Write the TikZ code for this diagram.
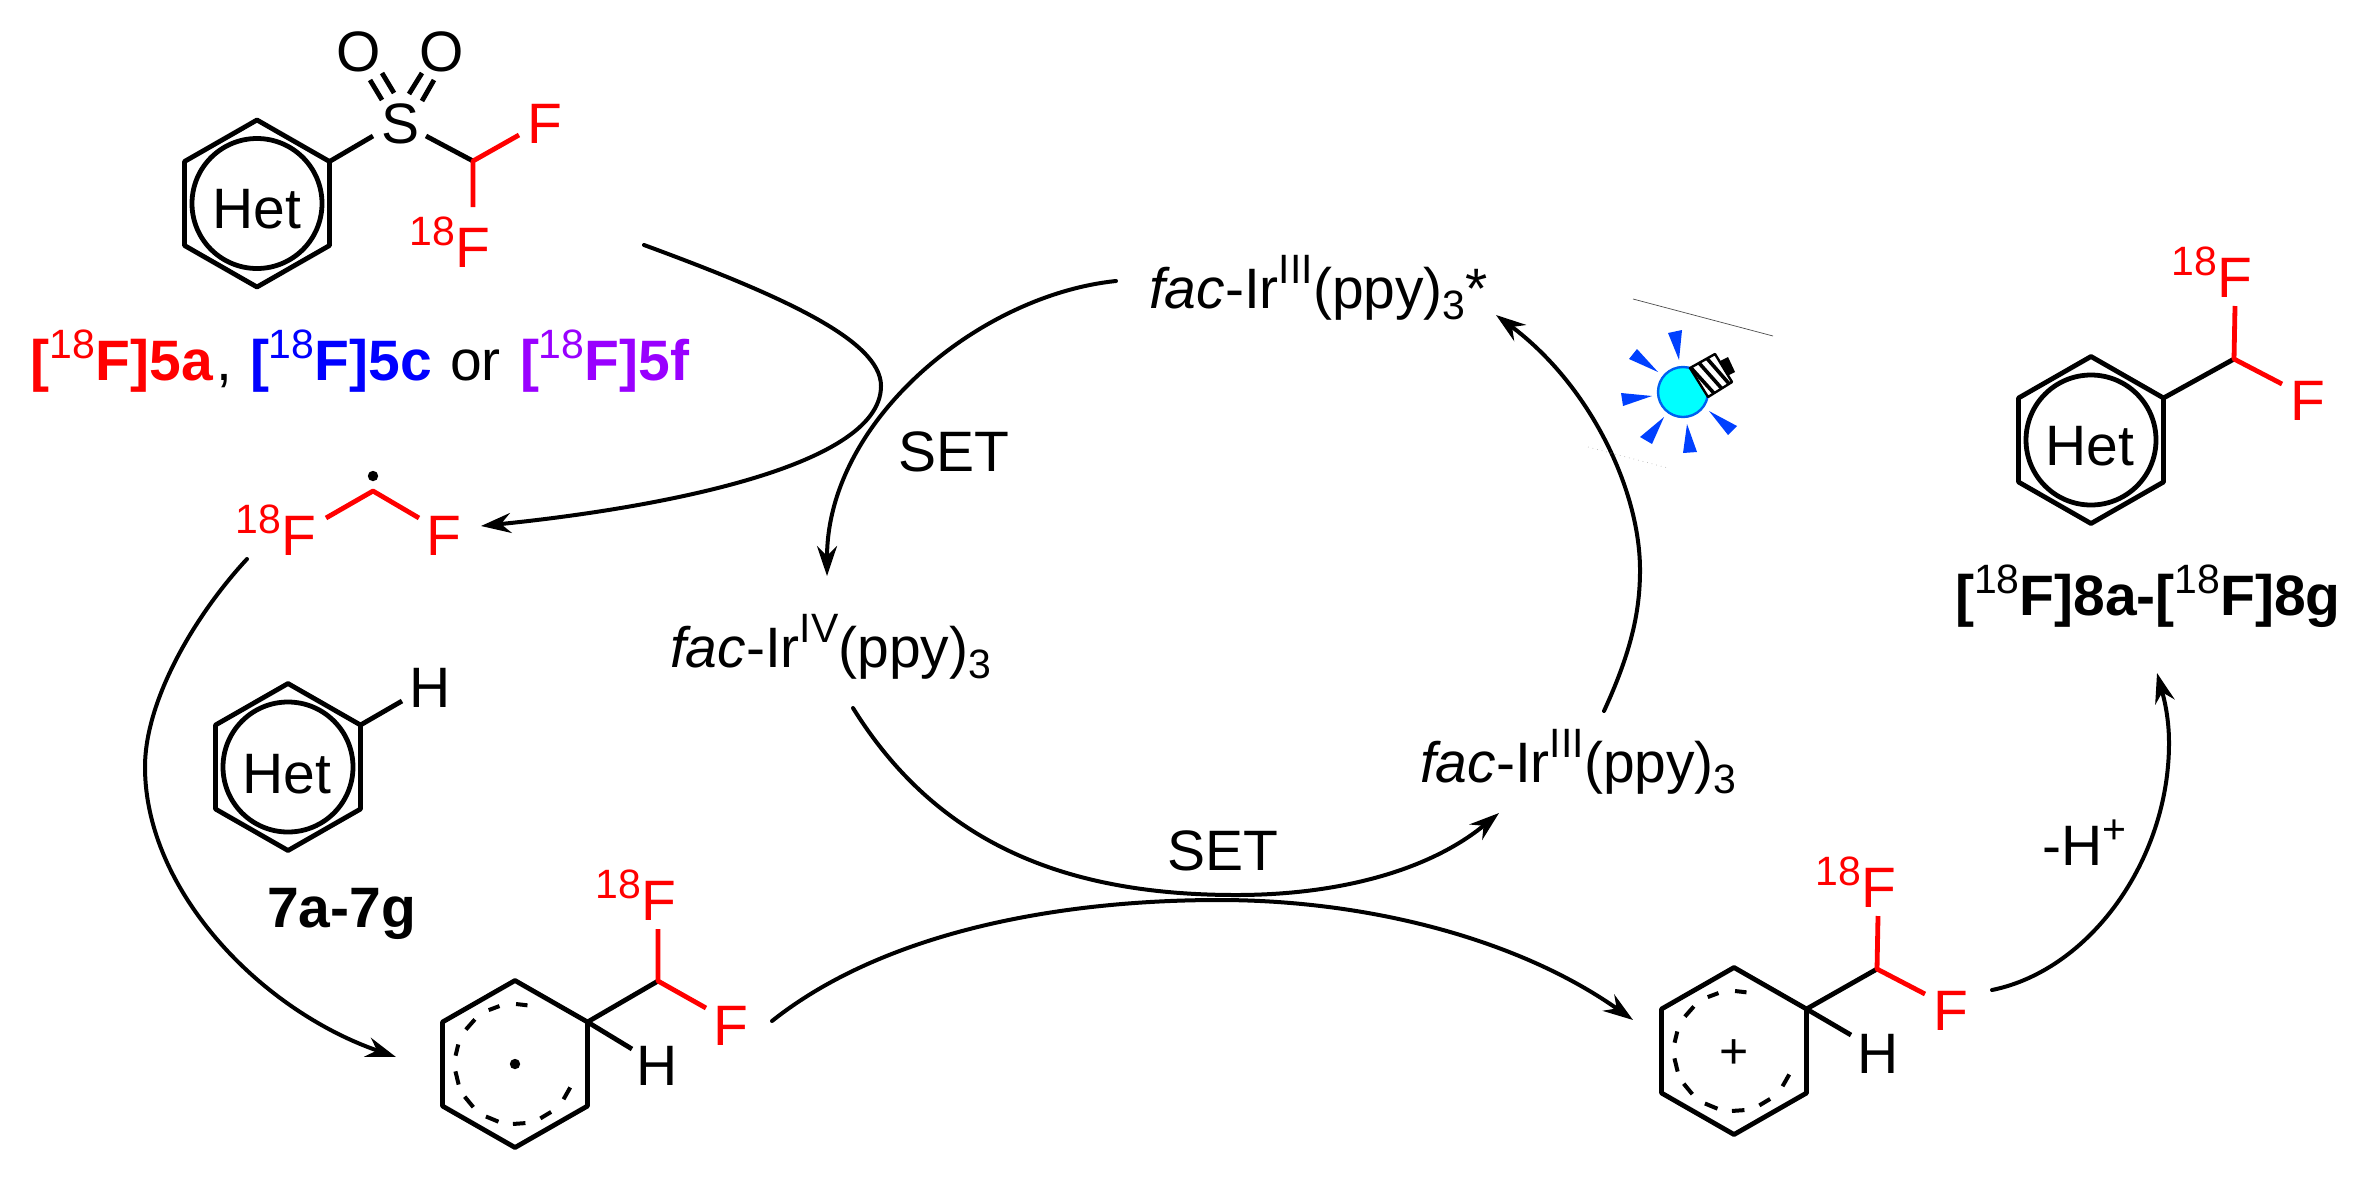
\documentclass[tikz,border=0pt]{standalone}
\usepackage{fontspec}
\setmainfont{Liberation Sans}
\usetikzlibrary{arrows.meta,calc}
\definecolor{fred}{HTML}{FF0000}
\definecolor{fblue}{HTML}{0000FF}
\definecolor{fpurple}{HTML}{9900FF}
\definecolor{bulbedge}{HTML}{0060F0}
\definecolor{bulbfill}{HTML}{00FFFF}
\definecolor{rayblue}{HTML}{0040FF}
\newcommand\bigf{\fontsize{28.5}{30}\selectfont}
\newcommand\smf{\fontsize{20.5}{22}\selectfont}
\newcommand\isoF{\raisebox{11pt}{\smf 18}F}
\newcommand\isoFb{[\raisebox{11pt}{\smf\mdseries 18}F]}
\newcommand\hexat[3]{%
  \coordinate (#1c) at (#2,#3);
  \coordinate (#11) at (#2,#3-83.5);
  \coordinate (#12) at (#2+72.5,#3-42);
  \coordinate (#13) at (#2+72.5,#3+42);
  \coordinate (#14) at (#2,#3+83.5);
  \coordinate (#15) at (#2-72.5,#3+42);
  \coordinate (#16) at (#2-72.5,#3-42);
  \draw[bond] (#11)--(#12)--(#13)--(#14)--(#15)--(#16)--cycle;}
\newcommand\ringdash[2]{%
  \foreach \aa/\bb in {116/105,89/78,145/132,172/161,187/200,213/226,241/254,268/280,295/307,324/337}
    \draw[dashbond,shift={(#1,#2)}] ({60*cos(\aa)},{-60*sin(\aa)}) -- ({60*cos(\bb)},{-60*sin(\bb)});}
\tikzset{
  bond/.style={line width=2.4pt,line join=round,draw=black},
  rbond/.style={line width=2.4pt,line join=round,draw=fred},
  dashbond/.style={line width=2pt,draw=black},
  curved/.style={line width=2pt,draw=black,line cap=round,-{Stealth[length=15pt,width=10pt,inset=5pt]}},
  txt/.style={inner sep=0pt,outer sep=0pt,font=\bigf},
  rtxt/.style={txt,text=fred},
  ray/.style={fill=rayblue,draw=none},
}
\begin{document}
\begin{tikzpicture}[x=0.5pt,y=-0.5pt]
\useasboundingbox (0,0) rectangle (2370,1179);

% sulfone reagent
\hexat{a}{257}{203.5}
\draw[bond] (ac) circle[radius=32.5pt];
\node[txt,anchor=base] (het1) at (257,228) {Het};
\node[txt,anchor=base] (s1) at (400.5,143) {S};
\node[txt,anchor=base] (o1) at (359,71) {O};
\node[txt,anchor=base] (o2) at (442,71) {O};
\node[rtxt,anchor=base west] (f1) at (527,143) {F};
\node[rtxt,anchor=base east] (f18a) at (490,267) {\isoF};
\coordinate (ca) at (473,161);
\coordinate (sl) at (373,136);
\coordinate (sr) at (426,136);
\coordinate (fa) at (519,135);
\coordinate (fb) at (473,207);
\coordinate (o1a) at (370,80); \coordinate (o1b) at (382,100);
\coordinate (o1c) at (382,73); \coordinate (o1d) at (394,93);
\coordinate (o2a) at (422,73); \coordinate (o2b) at (409,94);
\coordinate (o2c) at (434,80); \coordinate (o2d) at (422,101);
\draw[bond] (a2)--(sl);
\draw[bond] (sr)--(ca);
\draw[rbond] (fa)--(ca)--(fb);
\draw[bond] (o1a)--(o1b); \draw[bond] (o1c)--(o1d);
\draw[bond] (o2a)--(o2b); \draw[bond] (o2c)--(o2d);

% reagent labels
\node[txt,anchor=base west,text=fred,font=\bigf\bfseries] (l5a) at (31,380) {\isoFb 5a};
\node[txt,anchor=base west] (lcomma) at (216,380) {,};
\node[txt,anchor=base west,text=fblue,font=\bigf\bfseries] (l5c) at (250,380) {\isoFb 5c};
\node[txt,anchor=base west] (lor) at (450,380) {or};
\node[txt,anchor=base west,text=fpurple,font=\bigf\bfseries] (l5f) at (520,380) {\isoFb 5f};

% CHF radical
\node[rtxt,anchor=base east] (f18b) at (316,555) {\isoF};
\node[rtxt,anchor=base west] (f2) at (426,555) {F};
\coordinate (rapex) at (373,491);
\coordinate (rl) at (326,518);
\coordinate (rr) at (419,518);
\draw[rbond] (rl)--(rapex)--(rr);
\fill[black] (373,476) circle[radius=2.6pt];

% arene
\hexat{b}{288}{767}
\draw[bond] (bc) circle[radius=32.5pt];
\node[txt,anchor=base] (het2) at (287,793) {Het};
\node[txt,anchor=base] (h1) at (430,707) {H};
\coordinate (hb) at (402,701);
\draw[bond] (b2)--(hb);
\node[txt,anchor=base west,font=\bigf\bfseries] (l7) at (267,927) {7a-7g};

% radical intermediate
\hexat{c}{515}{1064}
\ringdash{515}{1064}
\fill[black] (cc) circle[radius=2.6pt];
\coordinate (cC) at (658,981);
\coordinate (cF1) at (658,929);
\coordinate (cF2) at (706,1008);
\coordinate (cH) at (632,1049);
\draw[bond] (c2)--(cC);
\draw[bond] (c2)--(cH);
\draw[rbond] (cF1)--(cC)--(cF2);
\node[rtxt,anchor=base east] (f18c) at (676,920) {\isoF};
\node[rtxt,anchor=base west] (f3) at (713,1045) {F};
\node[txt,anchor=base] (h2) at (657,1085) {H};

% cation intermediate
\hexat{d}{1734}{1051}
\ringdash{1734}{1051}
\node[txt,font=\fontsize{25}{26}\selectfont] (plus) at (1734,1054) {+};
\coordinate (dC) at (1877,969);
\coordinate (dF1) at (1878,916);
\coordinate (dF2) at (1925,994);
\coordinate (dH) at (1851,1035);
\draw[bond] (d2)--(dC);
\draw[bond] (d2)--(dH);
\draw[rbond] (dF1)--(dC)--(dF2);
\node[rtxt,anchor=base east] (f18d) at (1896,907) {\isoF};
\node[rtxt,anchor=base west] (f4) at (1933,1030) {F};
\node[txt,anchor=base] (h3) at (1878,1073) {H};

% product
\hexat{e}{2091}{440}
\draw[bond] (ec) circle[radius=32.5pt];
\node[txt,anchor=base] (het3) at (2090,465) {Het};
\coordinate (eC) at (2234,359);
\coordinate (eF1) at (2235,306);
\coordinate (eF2) at (2282,384);
\draw[bond] (e2)--(eC);
\draw[rbond] (eF1)--(eC)--(eF2);
\node[rtxt,anchor=base east] (f18e) at (2252,297) {\isoF};
\node[rtxt,anchor=base west] (f5) at (2290,420) {F};
\node[txt,anchor=base west,font=\bigf\bfseries] (l8) at (1955,615) {\isoFb 8a-\isoFb 8g};

% iridium species
\node[txt,anchor=base west] (irs) at (1149,308) {\textit{fac}-Ir\raisebox{12.5pt}{\smf III}(ppy)\raisebox{-5.5pt}{\smf 3}*};
\node[txt,anchor=base west] (ir4) at (670,667) {\textit{fac}-Ir\raisebox{12.5pt}{\smf IV}(ppy)\raisebox{-5.5pt}{\smf 3}};
\node[txt,anchor=base west] (ir3) at (1420,782) {\textit{fac}-Ir\raisebox{12.5pt}{\smf III}(ppy)\raisebox{-5.5pt}{\smf 3}};
\node[txt,anchor=base west] (set1) at (898,471) {SET};
\node[txt,anchor=base west] (set2) at (1167,870) {SET};
\node[txt,anchor=base west] (mh) at (2042,865) {-H\raisebox{11pt}{\smf +}};

% arrow end points
\coordinate (a1s) at (644,245); \coordinate (a1m) at (881,386); \coordinate (a1e) at (481,526);
\coordinate (a2s) at (1116,281); \coordinate (a2e) at (827,576);
\coordinate (a3s) at (247,559); \coordinate (a3m) at (145,767); \coordinate (a3e) at (396,1057);
\coordinate (a4s) at (853,708); \coordinate (a4m) at (1236,895); \coordinate (a4e) at (1499,813);
\coordinate (a5s) at (772,1021); \coordinate (a5m) at (1219,900); \coordinate (a5e) at (1633,1020);
\coordinate (a6s) at (1604,711); \coordinate (a6m) at (1640,570); \coordinate (a6e) at (1496,315);
\coordinate (a7s) at (1992,990); \coordinate (a7m) at (2169,743); \coordinate (a7e) at (2157,673);

\draw[curved] (a1s) .. controls (780,295) and (881,340) .. (a1m) .. controls (881,470) and (640,510) .. (a1e);
\draw[curved] (a2s) .. controls (980,295) and (827,420) .. (a2e);
\draw[curved] (a3s) .. controls (195,615) and (145,700) .. (a3m) .. controls (145,890) and (260,1010) .. (a3e);
\draw[curved] (a4s) .. controls (935,840) and (1060,895) .. (a4m) .. controls (1340,895) and (1430,870) .. (a4e);
\draw[curved] (a5s) .. controls (880,935) and (1050,900) .. (a5m) .. controls (1370,900) and (1520,940) .. (a5e);
\draw[curved] (a6s) .. controls (1632,650) and (1640,610) .. (a6m) .. controls (1640,490) and (1590,385) .. (a6e);
\draw[curved] (a7s) .. controls (2090,970) and (2169,860) .. (a7m) .. controls (2169,715) and (2163,695) .. (a7e);

% light bulb
\coordinate (t1a) at (1633,299); \coordinate (t1b) at (1773,336);
\coordinate (t2a) at (1588,447); \coordinate (t2b) at (1668,468);
\draw[line width=0.35pt,draw=black!70] (t1a)--(t1b);
\draw[line width=0.35pt,draw=black!30,dotted] (t2a)--(t2b);
\coordinate (ba) at (1690,368); \coordinate (bb) at (1715,354);
\coordinate (bc2) at (1732,382); \coordinate (bd) at (1708,397);
\fill[black] (1718,362)--(1728,357)--(1735,372)--(1725,377)--cycle;
\fill[ray] (1668,333)--(1682,330)--(1679,360)--cycle;
\fill[ray] (1629,359)--(1637,349)--(1658,372)--cycle;
\fill[ray] (1621,393)--(1652,396)--(1623,406)--cycle;
\fill[ray] (1640,437)--(1664,417)--(1652,444)--cycle;
\fill[ray] (1687,424)--(1697,452)--(1683,453)--cycle;
\fill[ray] (1709,411)--(1737,426)--(1728,435)--cycle;
\draw[draw=bulbedge,fill=bulbfill,line width=1.2pt] (1683,392) circle[radius=12.5pt];
\draw[line width=1.2pt,fill=white,line join=round] (ba)--(bb)--(bc2)--(bd)--cycle;
\foreach \t/\u in {0.03/0.25,0.36/0.57,0.68/0.88}
  \draw[line width=1.8pt] ($(ba)!\t!(bb)$) -- ($(bd)!\u!(bc2)$);
\end{tikzpicture}
\end{document}
